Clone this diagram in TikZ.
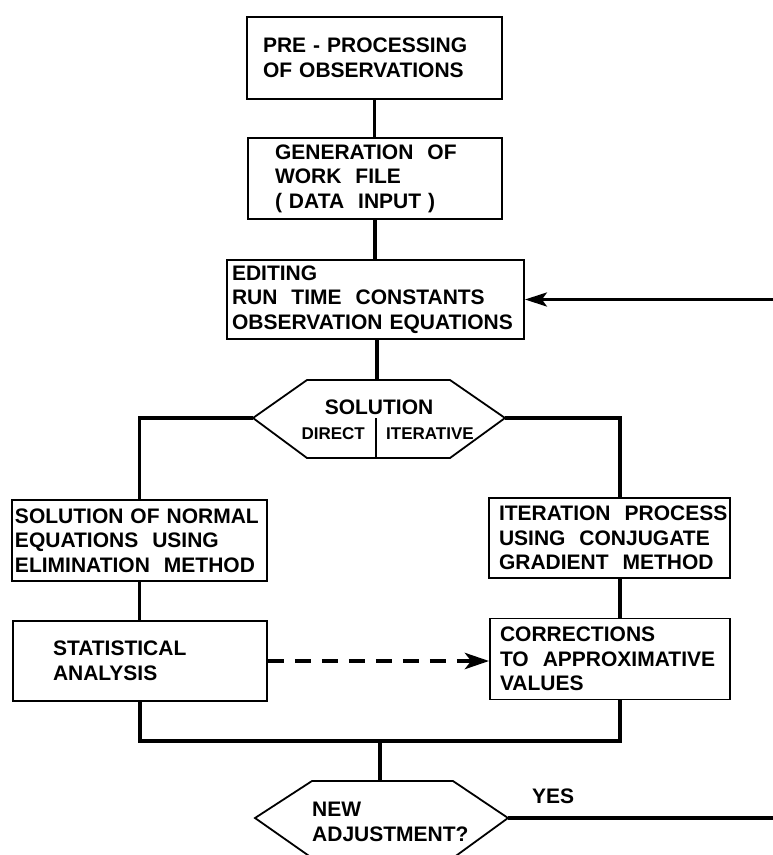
\documentclass[tikz,border=0pt]{standalone}
\usepackage{fontspec}
\setmainfont{Liberation Sans}
\usetikzlibrary{arrows.meta}
\tikzset{
  procbox/.style={draw, line width=1.8pt, align=left,
    font=\bfseries\fontsize{21}{24.5}\selectfont, inner ysep=0pt},
  conn/.style={line width=3.2pt, line join=miter},
  hexline/.style={line width=1.8pt, line join=miter},
  txt/.style={inner sep=0pt, font=\bfseries\fontsize{21}{24.5}\selectfont},
  smalltxt/.style={inner sep=0pt, font=\bfseries\fontsize{17}{20}\selectfont},
  headtip/.style={-{Stealth[length=22pt,width=14pt,inset=5pt]}}
}
\begin{document}
\begin{tikzpicture}[x=1pt,y=-1pt]
\useasboundingbox (0,0) rectangle (773,855);

% boxes
\node[procbox, text width=223pt, inner xsep=16pt, minimum height=82pt] (b1) at (374.5,58)
  {\mbox{PRE~-~PROCESSING}\\\mbox{OF~OBSERVATIONS}};
\node[procbox, text width=200pt, inner xsep=27pt, minimum height=81pt] (b2) at (375,178.5)
  {\mbox{GENERATION~~OF}\\\mbox{WORK~~FILE}\\\mbox{(~DATA~~INPUT~)}};
\node[procbox, text width=287pt, inner xsep=5pt, minimum height=79pt] (b3) at (375.5,299.5)
  {EDITING\\\mbox{RUN~~TIME~~CONSTANTS}\\\mbox{OBSERVATION~EQUATIONS}};
\node[procbox, text width=249pt, inner xsep=3pt, minimum height=81pt] (b4) at (139.5,540.5)
  {\mbox{SOLUTION~OF~NORMAL}\\\mbox{EQUATIONS~~USING}\\\mbox{ELIMINATION~~METHOD}};
\node[procbox, text width=221pt, inner xsep=10pt, minimum height=80pt] (b5) at (609.5,538)
  {\mbox{ITERATION~~PROCESS}\\\mbox{USING~~CONJUGATE}\\\mbox{GRADIENT~~METHOD}};
\node[procbox, text width=174pt, inner xsep=40pt, minimum height=80pt] (b6) at (140,661)
  {STATISTICAL\\ANALYSIS};
\node[procbox, text width=220pt, inner xsep=10pt, minimum height=81pt] (b7) at (610,659)
  {CORRECTIONS\\\mbox{TO~~APPROXIMATIVE}\\VALUES};

% decision 1
\draw[hexline] (253,418) coordinate (solW) -- (307,380) -- (450,380)
  -- (505,418) coordinate (solE) -- (450,458) -- (307,458) -- cycle;
\coordinate (solN) at (377,380);
\coordinate (solD) at (376,418);
\coordinate (solS) at (376,458);
\draw[line width=1.2pt] (solD) -- (solS);
\node[txt, anchor=base] (solt) at (379,414) {SOLUTION};
\node[smalltxt, anchor=base east] (dir) at (365,439) {DIRECT};
\node[smalltxt, anchor=base west] (ite) at (386,439) {ITERATIVE};

% decision 2
\draw[hexline] (255,818) coordinate (adjW) -- (312,781) -- (453,781)
  -- (508,818) coordinate (adjE) -- (453,858) -- (312,858) -- cycle;
\coordinate (adjN) at (380,781);
\node[txt, align=left, anchor=north west] (adjt) at (312,802) {NEW\\ADJUSTMENT?};
\node[txt, anchor=base west] (yes) at (532,803) {YES};

% helper coordinates
\coordinate (rc) at (620,0);
\coordinate (busM) at (380,741);
\coordinate (fbR) at (773,299.5);
\coordinate (yesR) at (773,818);

% connectors
\draw[conn] (b1.south) -- (b1.south |- b2.north);
\draw[conn] (b2.south) -- (b2.south |- b3.north);
\draw[conn] (b3.south -| solN) -- (solN);
\draw[conn] (solW) -| (b4.north);
\draw[conn] (solE) -| (b5.north -| rc);
\draw[conn] (b4.south) -- (b4.south |- b6.north);
\draw[conn] (b5.south -| rc) -- (b7.north -| rc);
\draw[conn] (b6.south) |- (busM) -| (b7.south -| rc);
\draw[conn] (busM) -- (adjN);
\draw[conn, headtip] (fbR) -- (b3.east);
\draw[conn] (adjE) -- (yesR);
\draw[line width=4.5pt, dash pattern=on 16pt off 11pt,
  -{Stealth[length=24pt,width=16pt,inset=6pt]}] (b6.east) -- (b6.east -| b7.west);
\end{tikzpicture}
\end{document}
